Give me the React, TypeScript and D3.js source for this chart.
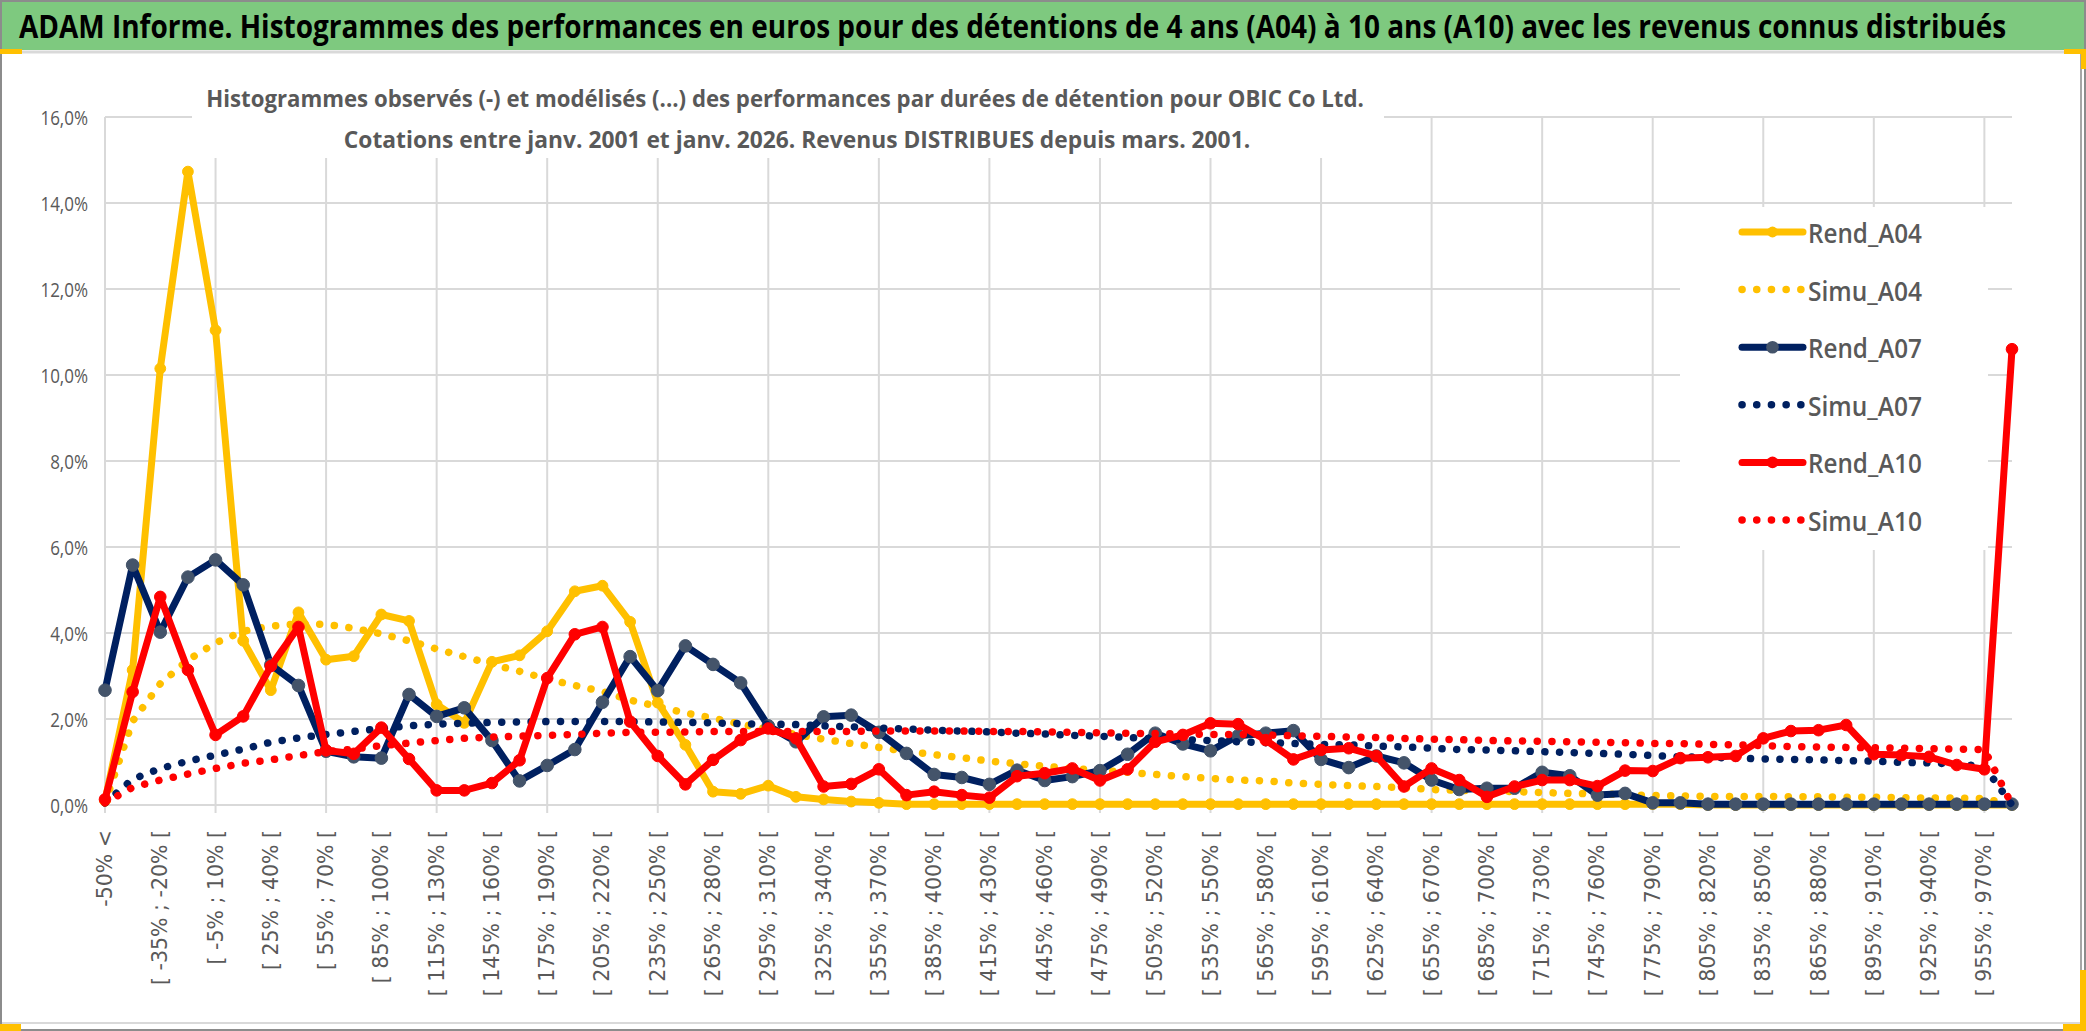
import React from 'react';
import * as d3 from 'd3';

const categories: string[] = [
  '-50% <', '[ -50% ; -35% [', '[ -35% ; -20% [', '[ -20% ; -5% [', '[ -5% ; 10% [', '[ 10% ; 25% [',
  '[ 25% ; 40% [', '[ 40% ; 55% [', '[ 55% ; 70% [', '[ 70% ; 85% [', '[ 85% ; 100% [', '[ 100% ; 115% [',
  '[ 115% ; 130% [', '[ 130% ; 145% [', '[ 145% ; 160% [', '[ 160% ; 175% [', '[ 175% ; 190% [', '[ 190% ; 205% [',
  '[ 205% ; 220% [', '[ 220% ; 235% [', '[ 235% ; 250% [', '[ 250% ; 265% [', '[ 265% ; 280% [', '[ 280% ; 295% [',
  '[ 295% ; 310% [', '[ 310% ; 325% [', '[ 325% ; 340% [', '[ 340% ; 355% [', '[ 355% ; 370% [', '[ 370% ; 385% [',
  '[ 385% ; 400% [', '[ 400% ; 415% [', '[ 415% ; 430% [', '[ 430% ; 445% [', '[ 445% ; 460% [', '[ 460% ; 475% [',
  '[ 475% ; 490% [', '[ 490% ; 505% [', '[ 505% ; 520% [', '[ 520% ; 535% [', '[ 535% ; 550% [', '[ 550% ; 565% [',
  '[ 565% ; 580% [', '[ 580% ; 595% [', '[ 595% ; 610% [', '[ 610% ; 625% [', '[ 625% ; 640% [', '[ 640% ; 655% [',
  '[ 655% ; 670% [', '[ 670% ; 685% [', '[ 685% ; 700% [', '[ 700% ; 715% [', '[ 715% ; 730% [', '[ 730% ; 745% [',
  '[ 745% ; 760% [', '[ 760% ; 775% [', '[ 775% ; 790% [', '[ 790% ; 805% [', '[ 805% ; 820% [', '[ 820% ; 835% [',
  '[ 835% ; 850% [', '[ 850% ; 865% [', '[ 865% ; 880% [', '[ 880% ; 895% [', '[ 895% ; 910% [', '[ 910% ; 925% [',
  '[ 925% ; 940% [', '[ 940% ; 955% [', '[ 955% ; 970% [', '> 970%'
];

// values in %
const rendA04: number[] = [
  0.1, 3.14, 10.15, 14.73, 11.04, 3.82, 2.67, 4.48, 3.38, 3.46,
  4.43, 4.28, 2.34, 1.91, 3.33, 3.48, 4.04, 4.97, 5.1, 4.26,
  2.38, 1.4, 0.31, 0.26, 0.45, 0.19, 0.13, 0.08, 0.05, 0.02,
  0.02, 0.02, 0.02, 0.02, 0.02, 0.02, 0.02, 0.02, 0.02, 0.02,
  0.02, 0.02, 0.02, 0.02, 0.02, 0.02, 0.02, 0.02, 0.02, 0.02,
  0.02, 0.02, 0.02, 0.02, 0.02, 0.02, 0.02, 0.02, 0, 0,
  0, 0, 0, 0, 0, 0, 0, 0, 0, 0
];
const simuA04: number[] = [
  0.05, 1.95, 2.82, 3.37, 3.77, 4.04, 4.16, 4.21, 4.2, 4.11,
  3.98, 3.82, 3.63, 3.45, 3.27, 3.11, 2.93, 2.78, 2.64, 2.44,
  2.29, 2.14, 2.02, 1.88, 1.76, 1.64, 1.53, 1.43, 1.34, 1.25,
  1.17, 1.1, 1.02, 0.96, 0.9, 0.85, 0.81, 0.76, 0.71, 0.66,
  0.62, 0.58, 0.56, 0.51, 0.48, 0.45, 0.43, 0.4, 0.36, 0.34,
  0.33, 0.31, 0.29, 0.27, 0.26, 0.24, 0.22, 0.21, 0.2, 0.2,
  0.2, 0.19, 0.19, 0.18, 0.18, 0.17, 0.16, 0.16, 0.15, 0
];
const rendA07: number[] = [
  2.67, 5.58, 4.02, 5.3, 5.7, 5.12, 3.26, 2.78, 1.25, 1.12,
  1.09, 2.57, 2.06, 2.26, 1.5, 0.56, 0.92, 1.29, 2.39, 3.45,
  2.66, 3.7, 3.27, 2.84, 1.84, 1.47, 2.05, 2.09, 1.69, 1.2,
  0.71, 0.64, 0.48, 0.81, 0.57, 0.66, 0.8, 1.18, 1.67, 1.42,
  1.26, 1.61, 1.67, 1.73, 1.06, 0.87, 1.14, 0.98, 0.58, 0.36,
  0.39, 0.39, 0.76, 0.68, 0.23, 0.27, 0.05, 0.05, 0.02, 0.02,
  0.02, 0.02, 0.02, 0.02, 0.02, 0.02, 0.02, 0.02, 0.02, 0.02
];
const simuA07: number[] = [
  0.05, 0.6, 0.85, 1.02, 1.16, 1.3, 1.46, 1.56, 1.64, 1.71,
  1.78, 1.84, 1.88, 1.9, 1.92, 1.93, 1.94, 1.94, 1.94, 1.94,
  1.93, 1.92, 1.91, 1.89, 1.88, 1.87, 1.84, 1.82, 1.79, 1.77,
  1.74, 1.72, 1.7, 1.67, 1.65, 1.62, 1.6, 1.57, 1.54, 1.52,
  1.5, 1.47, 1.45, 1.43, 1.41, 1.4, 1.37, 1.35, 1.32, 1.29,
  1.28, 1.26, 1.24, 1.22, 1.2, 1.18, 1.15, 1.12, 1.11, 1.09,
  1.07, 1.06, 1.05, 1.03, 1.02, 0.99, 0.98, 0.95, 0.9, 0
];
const rendA10: number[] = [
  0.13, 2.63, 4.84, 3.14, 1.63, 2.06, 3.23, 4.14, 1.27, 1.19,
  1.8, 1.07, 0.34, 0.34, 0.51, 1.04, 2.95, 3.97, 4.14, 1.94,
  1.14, 0.48, 1.05, 1.51, 1.78, 1.55, 0.43, 0.49, 0.83, 0.23,
  0.31, 0.23, 0.17, 0.67, 0.74, 0.85, 0.57, 0.83, 1.47, 1.63,
  1.9, 1.88, 1.51, 1.06, 1.28, 1.32, 1.14, 0.43, 0.85, 0.58,
  0.19, 0.43, 0.58, 0.58, 0.44, 0.8, 0.79, 1.09, 1.11, 1.14,
  1.55, 1.72, 1.74, 1.86, 1.18, 1.16, 1.12, 0.93, 0.83, 10.6
];
const simuA10: number[] = [
  0.05, 0.41, 0.58, 0.72, 0.85, 0.97, 1.05, 1.15, 1.24, 1.3,
  1.38, 1.44, 1.5, 1.55, 1.58, 1.6, 1.62, 1.64, 1.67, 1.69,
  1.69, 1.7, 1.71, 1.71, 1.71, 1.71, 1.71, 1.71, 1.72, 1.72,
  1.72, 1.72, 1.71, 1.71, 1.7, 1.69, 1.68, 1.67, 1.66, 1.65,
  1.64, 1.64, 1.63, 1.61, 1.6, 1.58, 1.57, 1.55, 1.53, 1.52,
  1.5, 1.49, 1.48, 1.47, 1.46, 1.45, 1.43, 1.43, 1.41, 1.4,
  1.38, 1.36, 1.35, 1.34, 1.33, 1.32, 1.31, 1.3, 1.29, 0
];

const yTicks: number[] = [0, 2, 4, 6, 8, 10, 12, 14, 16];
const seriesNames: string[] = ['Rend_A04', 'Simu_A04', 'Rend_A07', 'Simu_A07', 'Rend_A10', 'Simu_A10'];

const titleText = 'ADAM Informe. Histogrammes des performances en euros pour des détentions de 4 ans (A04) à 10 ans (A10) avec les revenus connus distribués';
const subtitle1 = 'Histogrammes observés (-) et modélisés (...) des performances par durées de détention pour OBIC Co Ltd.';
const subtitle2 = 'Cotations entre janv. 2001 et janv. 2026. Revenus DISTRIBUES depuis mars. 2001.';

const GOLD = '#FFC000';
const NAVY = '#002060';
const RED = '#FF0000';

type S = { name: string; values: number[]; color: string; dotted: boolean; marker: string; r: number };

const series: S[] = [
  { name: seriesNames[0], values: rendA04, color: GOLD, dotted: false, marker: GOLD, r: 5.4 },
  { name: seriesNames[1], values: simuA04, color: GOLD, dotted: true, marker: GOLD, r: 0 },
  { name: seriesNames[2], values: rendA07, color: NAVY, dotted: false, marker: '#44546A', r: 6.3 },
  { name: seriesNames[3], values: simuA07, color: NAVY, dotted: true, marker: NAVY, r: 0 },
  { name: seriesNames[4], values: rendA10, color: RED, dotted: false, marker: RED, r: 5.8 },
  { name: seriesNames[5], values: simuA10, color: RED, dotted: true, marker: RED, r: 0 },
];

const LW = 7;
const DW = 7.5;
const DASH = '0.1 14.6';

type FitProps = {
  x: number;
  y: number;
  width: number;
  anchor?: 'start' | 'middle' | 'end';
  baseline?: string;
  family: string;
  weight?: string | number;
  size: number;
  fill: string;
  children: string;
};

function FitText(p: FitProps) {
  const ref = React.useRef<SVGTextElement>(null);
  const [s, setS] = React.useState(1);
  React.useLayoutEffect(() => {
    if (ref.current) {
      const l = ref.current.getComputedTextLength();
      if (l > 0) setS(p.width / l);
    }
  }, [p.children, p.width, p.size, p.family]);
  return (
    <text
      ref={ref}
      transform={`translate(${p.x},${p.y}) scale(${s},1)`}
      textAnchor={p.anchor || 'start'}
      dominantBaseline={p.baseline as any}
      fontFamily={p.family}
      fontWeight={p.weight as any}
      fontSize={p.size}
      fill={p.fill}
    >
      {p.children}
    </text>
  );
}

export default function App() {
  React.useEffect(() => {
    document.body.style.margin = '0';
  }, []);
  const W = 2086;
  const H = 1031;
  const idx = d3.range(categories.length);
  const x = d3.scalePoint<number>().domain(idx).range([105, 2012]);
  const y = d3.scaleLinear().domain([0, 16]).range([805, 117]);
  const line = d3.line<number>().x((_, i) => x(i) as number).y((d) => y(d));
  const fmt = (v: number) => v.toFixed(1).replace('.', ',') + '%';
  const grid = '#D9D9D9';
  const txt = '#595959';
  const vGrid = idx.filter((i) => i % 4 === 0);
  const labelIdx = idx.filter((i) => i % 2 === 0);
  const xL = x(0) as number;
  const xR = x(categories.length - 1) as number;

  const legendX0 = 1742;
  const legendX1 = 1803;
  const sans = "'Open Sans', sans-serif";

  return (
    <div style={{ position: 'absolute', left: 0, top: 0 }}>
      <svg width={W} height={H} viewBox={`0 0 ${W} ${H}`} style={{ display: 'block' }}>
        <rect x={0} y={0} width={W} height={H} fill="#FFFFFF" />
        {/* title bar */}
        <rect x={0} y={0} width={W} height={50} fill="#7EC97F" />
        <FitText x={19} y={38} width={1988} family={sans} weight="bold" size={32} fill="#000000">
          {titleText}
        </FitText>
        <line x1={0} x2={W} y1={52} y2={52} stroke="#D9D9D9" strokeWidth={3} />

        {/* horizontal gridlines */}
        {yTicks.map((t) => (
          <line key={'h' + t} x1={xL} x2={xR} y1={y(t)} y2={y(t)} stroke={grid} strokeWidth={2} />
        ))}
        {/* vertical gridlines + ticks */}
        {vGrid.map((i) => (
          <line key={'v' + i} x1={x(i)} x2={x(i)} y1={y(16)} y2={813} stroke={grid} strokeWidth={2} />
        ))}

        {/* series */}
        {series.map((s) => (
          <g key={s.name}>
            <path
              d={line(s.values) || ''}
              fill="none"
              stroke={s.color}
              strokeWidth={s.dotted ? DW : LW}
              strokeLinecap="round"
              strokeLinejoin="round"
              strokeDasharray={s.dotted ? DASH : undefined}
            />
            {!s.dotted &&
              s.values.map((v, i) => (
                <circle key={i} cx={x(i)} cy={y(v)} r={s.r} fill={s.marker} stroke={s.marker} strokeWidth={1} />
              ))}
          </g>
        ))}

        {/* subtitle box */}
        <rect x={192} y={66} width={1192} height={92} fill="#FFFFFF" />
        <FitText x={785} y={107} anchor="middle" width={1158} family={sans} weight="bold" size={24} fill={txt}>
          {subtitle1}
        </FitText>
        <FitText x={797} y={148} anchor="middle" width={907} family={sans} weight="bold" size={24} fill={txt}>
          {subtitle2}
        </FitText>

        {/* legend */}
        <rect x={1680} y={207} width={308} height={343} fill="#FFFFFF" />
        {series.map((s, k) => {
          const ly = 232 + k * 57.6;
          return (
            <g key={'lg' + s.name}>
              <line
                x1={legendX0}
                x2={legendX1}
                y1={ly}
                y2={ly}
                stroke={s.color}
                strokeWidth={s.dotted ? DW : LW}
                strokeLinecap="round"
                strokeDasharray={s.dotted ? DASH : undefined}
              />
              {!s.dotted && <circle cx={(legendX0 + legendX1) / 2} cy={ly} r={s.r} fill={s.marker} />}
              <FitText x={1808} y={ly + 1} baseline="central" width={114} family={sans} weight={600} size={27} fill={txt}>
                {s.name}
              </FitText>
            </g>
          );
        })}

        {/* y axis labels */}
        {yTicks.map((t) => (
          <text
            key={'yl' + t}
            transform={`translate(88,${y(t)}) scale(0.85,1)`}
            textAnchor="end"
            dominantBaseline="central"
            fontFamily={sans}
            fontSize={20}
            fill={txt}
          >
            {fmt(t)}
          </text>
        ))}

        {/* x axis labels */}
        {labelIdx.map((i) => (
          <text
            key={'xl' + i}
            transform={`translate(${x(i)},830) rotate(-90)`}
            textAnchor="end"
            dominantBaseline="central"
            fontFamily="'DejaVu Sans', sans-serif"
            fontSize={20.5}
            fill={txt}
          >
            {categories[i]}
          </text>
        ))}

        {/* chart frame */}
        <line x1={2081} x2={2081} y1={52} y2={1023} stroke="#A6A6A6" strokeWidth={2} />
        <line x1={0} x2={2081} y1={1023} y2={1023} stroke="#D9D9D9" strokeWidth={2} />
        <rect x={1} y={1} width={W - 2} height={H - 2} fill="none" stroke="#8C8C8C" strokeWidth={2} />
        {/* selection handles */}
        <rect x={0} y={49} width={22} height={5} fill={GOLD} />
        <rect x={2064} y={49} width={22} height={5} fill={GOLD} />
        <rect x={2081} y={49} width={5} height={20} fill={GOLD} />
        <rect x={0} y={1024} width={21} height={7} fill={GOLD} />
        <rect x={2063} y={1024} width={23} height={7} fill={GOLD} />
        <rect x={2080} y={970} width={6} height={61} fill={GOLD} />
      </svg>
    </div>
  );
}
